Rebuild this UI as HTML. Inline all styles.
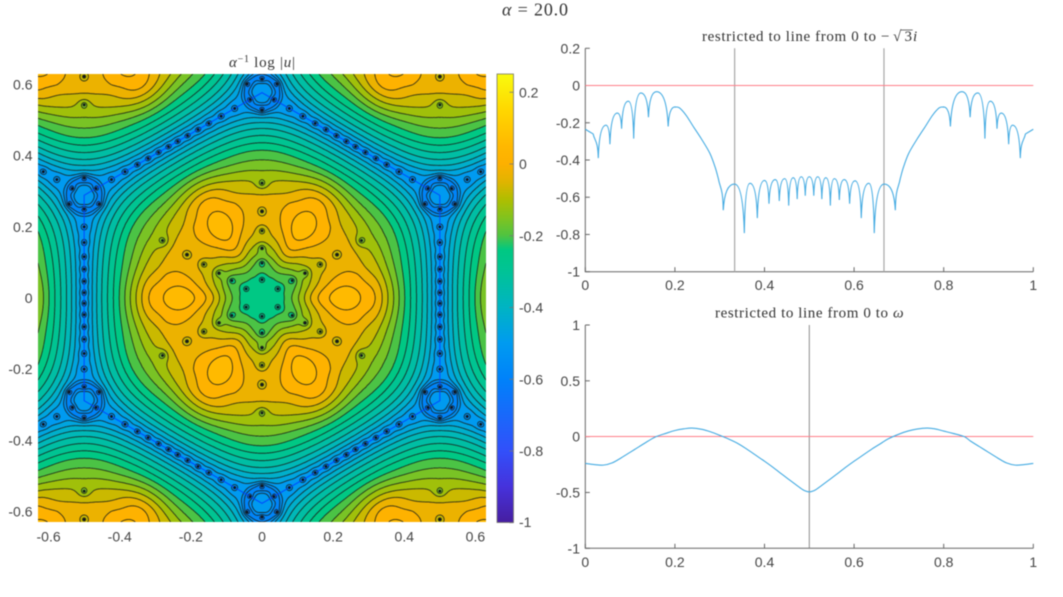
<!DOCTYPE html>
<html lang="en">
<head>
<meta charset="utf-8">
<title>alpha = 20.0</title>
<style>
html,body{margin:0;padding:0;background:#fff;width:1063px;height:597px;overflow:hidden}
#figure{position:absolute;left:0;top:0;width:1063px;height:597px;filter:blur(0.45px)}
#heat{position:absolute;left:38px;top:74px;width:448px;height:448px}
#overlay{position:absolute;left:0;top:0}
text{font-family:"Liberation Sans",sans-serif;font-size:14px;fill:#454545}
.tt{font-family:"Liberation Serif",serif;font-size:15px;fill:#333}
</style>
</head>
<body>
<div id="figure">
<canvas id="heat" width="896" height="896"></canvas>
<svg id="overlay" width="1063" height="597" viewBox="0 0 1063 597" xmlns="http://www.w3.org/2000/svg">
<defs><linearGradient id="cbGrad" x1="0" y1="1" x2="0" y2="0"></linearGradient></defs>
<text class="tt" x="502" y="15.5" textLength="66" style="font-size:18px"><tspan font-style="italic">α</tspan> = 20.0</text>
<text class="tt" x="229" y="67" textLength="66"><tspan font-style="italic">α</tspan><tspan dy="-5" style="font-size:10px">−1</tspan><tspan dy="5"> log |</tspan><tspan font-style="italic">u</tspan>|</text>
<text class="tt" x="702" y="41" textLength="174">restricted to line from 0 to</text>
<text class="tt" x="881" y="41">−</text>
<text class="tt" x="893" y="41">√</text>
<text class="tt" x="904.5" y="41">3</text>
<text class="tt" x="913" y="41" font-style="italic">i</text>
<line x1="900.7" x2="912.7" y1="30" y2="30" stroke="#333" stroke-width="0.7"/>
<text class="tt" x="715" y="317.5" textLength="173">restricted to line from 0 to</text>
<text class="tt" x="893" y="317.5" textLength="11" font-style="italic">ω</text>
<rect x="497" y="74" width="16.5" height="448.5" fill="url(#cbGrad)" stroke="#77776a" stroke-width="0.8"/>
<g id="layer"></g>
</svg>
</div>
<script>
// ---------- line plot data ----------
const topT = [0,.0175,.029,.0462,.055,.0715,.081,.096,.108,.124,.141,.159,.185,.2,.21,.225,.241,.26,.278,.29,.297,.308,.333,.355,.3675,.384,.4,.41,.424,.433,.445,.454,.464,.473,.482,.491,.5,.51,.519,.528,.537,.547,.556,.567,.578,.59,.602,.616,.633,.645,.667,.692,.703,.71,.722,.74,.759,.775,.79,.8,.815,.841,.859,.876,.892,.904,.919,.9285,.945,.9538,.971,.9825,1];
const topV = [-.235,-.26,-.39,-.213,-.315,-.148,-.232,-.084,-.285,-.04,-.17,-.033,-.22,-.115,-.12,-.16,-.22,-.29,-.364,-.44,-.5,-.67,-.529,-.793,-.525,-.712,-.51,-.635,-.505,-.62,-.5,-.645,-.495,-.61,-.49,-.592,-.49,-.592,-.49,-.61,-.495,-.645,-.5,-.615,-.505,-.635,-.512,-.712,-.525,-.793,-.529,-.67,-.5,-.44,-.364,-.29,-.22,-.16,-.12,-.115,-.22,-.033,-.17,-.04,-.285,-.084,-.232,-.148,-.315,-.213,-.39,-.26,-.235];
const bottomT = [0,.02,.04,.06,.08,.1,.12,.14,.158,.18,.2,.22,.238,.26,.28,.3,.318,.34,.36,.38,.4,.42,.44,.46,.48,.49,.5,.51,.52,.54,.56,.58,.6,.62,.64,.66,.677,.7,.72,.74,.763,.78,.8,.82,.846,.86,.88,.9,.92,.94,.96,.98,1];
const bottomV = [-.24,-.25,-.255,-.235,-.19,-.14,-.09,-.04,0,.03,.055,.07,.077,.066,.043,.012,-.018,-.06,-.11,-.165,-.22,-.278,-.34,-.4,-.46,-.485,-.495,-.485,-.46,-.4,-.34,-.278,-.22,-.165,-.11,-.06,-.018,.022,.05,.068,.077,.07,.05,.03,0,-.04,-.09,-.14,-.19,-.235,-.255,-.25,-.24];
const topVerticals = [1/3,2/3];
const bottomVerticals = [.5];
const xTickLabels = [0,.2,.4,.6,.8,1];
const topYTicks = [.2,0,-.2,-.4,-.6,-.8,-1];
const bottomYTicks = [1,.5,0,-.5,-1];
const heatTicks = [-.6,-.4,-.2,0,.2,.4,.6];
const colorbarTicks = [.2,0,-.2,-.4,-.6,-.8,-1];

// ---------- heat field data ----------
const cmapVals = [-1,-.9,-.8,-.6,-.5,-.4,-.3,-.24,-.2,-.15,-.1,-.05,0,.05,.15,.25];
const cmapR = [70,70,50,0,0,0,0,0,80,130,175,225,253,255,255,249];
const cmapG = [30,50,80,130,155,180,195,200,195,195,190,180,176,184,215,251];
const cmapB = [160,220,250,250,240,195,150,130,65,30,0,0,0,0,0,14];
const profileR = [0,.04,.07,.1,.15,.2,.235,.28,.32,.36,.4,.45,.5,.52,.6];
const profileEdge = [-.22,-.225,-.19,-.135,-.022,.045,.062,.032,-.012,-.11,-.22,-.35,-.481,-.486,-.486];
const vertexR = [0,.08,.124,.167,.215,.275,.3,.34,.373,.399,.433,.46,.5];
const profileVertex = [-.22,-.18,-.11,-.05,-.015,-.02,-.055,-.105,-.19,-.29,-.43,-.48,-.5];
const radialZeros = [.0515,.098,.14,.189,.2436,.323];
const vertexRingRadial = [.529];
const edgeZeroOffsets = [.015,.047,.081,.116,.156,.2,.25];
const levelCount = 30;
const levelMin = -1;
const levelMax = .25;

// ---------- helpers ----------
const SVGNS = 'http://www.w3.org/2000/svg';
const layer = document.getElementById('layer');
function mk(tag, attrs, text){
  const el = document.createElementNS(SVGNS, tag);
  for (const k in attrs) el.setAttribute(k, attrs[k]);
  if (text !== undefined) el.textContent = text;
  layer.appendChild(el);
  return el;
}
function fmt(v){
  if (v === 0) return '0';
  return String(v);
}

// ---------- colour map ----------
function cmap(v){
  if (v <= cmapVals[0]) return [cmapR[0],cmapG[0],cmapB[0]];
  for (let i = 1; i < cmapVals.length; i++){
    if (v <= cmapVals[i]){
      const f = (v-cmapVals[i-1])/(cmapVals[i]-cmapVals[i-1]);
      return [cmapR[i-1]+f*(cmapR[i]-cmapR[i-1]),cmapG[i-1]+f*(cmapG[i]-cmapG[i-1]),cmapB[i-1]+f*(cmapB[i]-cmapB[i-1])];
    }
  }
  const n = cmapVals.length-1;
  return [cmapR[n],cmapG[n],cmapB[n]];
}
const grad = document.getElementById('cbGrad');
cmapVals.forEach(function(v,i){
  const s = document.createElementNS(SVGNS,'stop');
  s.setAttribute('offset', (v-levelMin)/(levelMax-levelMin));
  s.setAttribute('stop-color', 'rgb('+cmapR[i]+','+cmapG[i]+','+cmapB[i]+')');
  grad.appendChild(s);
});

// ---------- axes for line plots ----------
const topBox = {l:585.3,r:1033.3,t:48.3,b:271.7,y0:-1,y1:.2};
const botBox = {l:585.3,r:1033.3,t:325,b:548.3,y0:-1,y1:1};
function sx(box,t){ return box.l+t*(box.r-box.l); }
function sy(box,v){ return box.b-(v-box.y0)/(box.y1-box.y0)*(box.b-box.t); }

function drawAxes(box, yTicks, verticals, prefix, vColor, vWidth){
  const ax = mk('path',{d:'M'+box.l+' '+box.t+'V'+box.b+'H'+box.r,fill:'none',stroke:'#666','stroke-width':1});
  
  
  xTickLabels.forEach(function(t){
    const x = sx(box,t);
    const m = mk('line',{x1:x,x2:x,y1:box.b,y2:box.b-4.5,stroke:'#666','stroke-width':1});
    
    
    const l = mk('text',{x:x,y:box.b+18.5,'text-anchor':'middle'},fmt(t));
    
    
  });
  yTicks.forEach(function(v){
    const y = sy(box,v);
    const m = mk('line',{x1:box.l,x2:box.l+4.5,y1:y,y2:y,stroke:'#666','stroke-width':1});
    
    
    const l = mk('text',{x:580,y:y+5,'text-anchor':'end'},fmt(v));
    
    
  });
  verticals.forEach(function(t){
    const x = sx(box,t);
    const m = mk('line',{x1:x,x2:x,y1:box.t,y2:box.b,stroke:vColor,'stroke-width':vWidth});
    
    
  });
  const zy = Math.floor(sy(box,0))+.5;
  const z = mk('line',{x1:box.l,x2:box.r,y1:zy,y2:zy,stroke:'#ff7f8a','stroke-width':1});
  
  
}
drawAxes(topBox, topYTicks, topVerticals, 'top-plot', '#a8a8a8', 1.2);
drawAxes(botBox, bottomYTicks, bottomVerticals, 'bottom-plot', '#808080', 0.9);

// curve through points: cusps at sharp local minima, smooth arches elsewhere
function curvePath(box,ts,vs,cusps){
  const n = ts.length;
  const X = ts.map(function(t){return sx(box,t);});
  const Y = vs.map(function(v){return sy(box,v);});
  const isNull = function(i){ return cusps && i>0 && i<n-1 && vs[i]<vs[i-1] && vs[i]<vs[i+1]; };
  const tan = function(i){
    const a = (i===0||isNull(i-1))?i:i-1, b = (i===n-1||isNull(i+1))?i:i+1;
    return [(X[b]-X[a])/(b-a||1),(Y[b]-Y[a])/(b-a||1)];
  };
  let d = 'M'+X[0].toFixed(2)+' '+Y[0].toFixed(2);
  for (let i=0;i<n-1;i++){
    const a=isNull(i),b=isNull(i+1);
    const x0=X[i],y0=Y[i],x1=X[i+1],y1=Y[i+1];
    let c1x,c1y,c2x,c2y;
    if(!a && !b){
      const t0=tan(i),t1=tan(i+1);
      c1x=x0+t0[0]/3;c1y=y0+t0[1]/3;c2x=x1-t1[0]/3;c2y=y1-t1[1]/3;
    } else {
      const nx=a?x0:x1, ny=a?y0:y1, gx=a?x1:x0, gy=a?y1:y0, gi=a?i+1:i;
      const other=a?gi+1:gi-1;
      const peak=(other<0||other>=n)?true:vs[gi]>=vs[other];
      const cnx=nx+.1*(gx-nx), cny=ny+.75*(gy-ny);
      const cgx=peak?gx-.5*(gx-nx):gx-.35*(gx-nx);
      const cgy=peak?gy:gy-.32*(gy-ny);
      if(a){c1x=cnx;c1y=cny;c2x=cgx;c2y=cgy;}else{c1x=cgx;c1y=cgy;c2x=cnx;c2y=cny;}
    }
    d+='C'+c1x.toFixed(2)+' '+c1y.toFixed(2)+' '+c2x.toFixed(2)+' '+c2y.toFixed(2)+' '+x1.toFixed(2)+' '+y1.toFixed(2);
  }
  return d;
}
const topLine = mk('path',{d:curvePath(topBox,topT,topV,true),fill:'none',stroke:'#45abe2','stroke-width':1.1});



const botLine = mk('path',{d:curvePath(botBox,bottomT,bottomV,false),fill:'none',stroke:'#45abe2','stroke-width':1.1});



// ---------- heatmap tick labels ----------
const heatHalf = 224/355.7;
function hx(x){ return 38+(x+heatHalf)/(2*heatHalf)*448; }
function hy(y){ return 522-(y+heatHalf)/(2*heatHalf)*448; }
heatTicks.forEach(function(v){
  const a = mk('text',{x:hx(v),y:541.5,'text-anchor':'middle'},fmt(v));
  
  
  const b = mk('text',{x:32.5,y:hy(v)+5,'text-anchor':'end'},fmt(v));
  
  
});
function cby(v){ return 164-v*358.75; }
colorbarTicks.forEach(function(v){
  const y = cby(v);
  const m = mk('line',{x1:509.5,x2:513.5,y1:y,y2:y,stroke:'#777','stroke-width':0.8});
  
  
  const l = mk('text',{x:519,y:Math.min(y+5,527),'text-anchor':'start'},fmt(v));
  
  
});

// ---------- field ----------
function hermiteLUT(xs,ys,size,xmax){
  const m = xs.map(function(_,i){
    if(i===0) return (ys[1]-ys[0])/(xs[1]-xs[0]);
    if(i===xs.length-1) return (ys[i]-ys[i-1])/(xs[i]-xs[i-1]);
    return (ys[i+1]-ys[i-1])/(xs[i+1]-xs[i-1]);
  });
  const out = new Float32Array(size+1);
  let seg = 0;
  for(let k=0;k<=size;k++){
    const x = k/size*xmax;
    while(seg<xs.length-2 && x>xs[seg+1]) seg++;
    const h = xs[seg+1]-xs[seg];
    const s = Math.min(1,(x-xs[seg])/h);
    const s2=s*s,s3=s2*s;
    out[k]=(2*s3-3*s2+1)*ys[seg]+(s3-2*s2+s)*h*m[seg]+(-2*s3+3*s2)*ys[seg+1]+(s3-s2)*h*m[seg+1];
  }
  return out;
}
const LUTN=1200,LUTMAX=.6;
const lutE=hermiteLUT(profileR,profileEdge,LUTN,LUTMAX);
const lutV=hermiteLUT(vertexR,profileVertex,LUTN,LUTMAX);
const S3=Math.sqrt(3)/2,VR=1/Math.sqrt(3);
function sstep(a,b,x){ let t=(x-a)/(b-a); t=t<0?0:t>1?1:t; return t*t*(3-2*t); }

function background(x,y){
  let best=1e9,cx=0,cy=0;
  const j0=Math.round(y/S3);
  for(let j=j0-1;j<=j0+1;j++){
    const i0=Math.round(x-.5*j);
    for(let i=i0-1;i<=i0+1;i++){
      const ax=i+.5*j,ay=j*S3,d=(x-ax)*(x-ax)+(y-ay)*(y-ay);
      if(d<best){best=d;cx=ax;cy=ay;}
    }
  }
  const r=Math.sqrt(best);
  let th=Math.atan2(y-cy,x-cx);
  if(th<0) th+=Math.PI*2;
  const p60=Math.PI/3;
  let al=th%p60;
  if(al>p60/2) al=p60-al;
  const tau=sstep(.3,.5,r);
  const c1=Math.cos(al),c2=Math.cos(p60-al),c3=Math.cos(p60+al);
  const c12=c1*c1,c22=c2*c2,c32=c3*c3;
  const hexN=Math.pow(c12*c12*c12*c12+c22*c22*c22*c22+c32*c32*c32*c32,.125);
  const rho=r*(1-tau*(1-hexN));
  const w0=(1-Math.cos(6*al))/2;
  const w=(1-Math.pow(1-w0,2.5))*(1-sstep(.34,.42,r));
  const idx=Math.min(LUTN,Math.max(0,Math.round(rho/LUTMAX*LUTN)));
  return lutE[idx]*(1-w)+lutV[idx]*w;
}

const N=896;
const F=new Float32Array((N+1)*(N+1));
for(let j=0;j<=N;j++){
  const y=heatHalf-j/N*2*heatHalf;
  for(let i=0;i<=N;i++){
    const x=-heatHalf+i/N*2*heatHalf;
    F[j*(N+1)+i]=background(x,y);
  }
}
// zeros from the lattice
const radialMap=new Map(), edgeMap=new Map(), vertexMap=new Map();
function addPt(map,x,y){
  const k=Math.round(x*2000)+'_'+Math.round(y*2000);
  if(!map.has(k)) map.set(k,[x,y]);
}
for(let j=-2;j<=2;j++){
  for(let i=-3;i<=3;i++){
    const cx=i+.5*j,cy=j*S3;
    if(Math.abs(cx)>1.4||Math.abs(cy)>1.4) continue;
    for(let k=0;k<6;k++){
      const a=(30+60*k)*Math.PI/180,ca=Math.cos(a),sa=Math.sin(a);
      radialZeros.forEach(function(r){ addPt(radialMap,cx+r*ca,cy+r*sa); });
      vertexRingRadial.forEach(function(r){ addPt(edgeMap,cx+r*ca,cy+r*sa); });
      addPt(vertexMap,cx+VR*ca,cy+VR*sa);
      const b=(60*k)*Math.PI/180,mx=cx+.5*Math.cos(b),my=cy+.5*Math.sin(b),ex=-Math.sin(b),ey=Math.cos(b);
      edgeZeroOffsets.forEach(function(o){
        addPt(edgeMap,mx+o*ex,my+o*ey);
        addPt(edgeMap,mx-o*ex,my-o*ey);
      });
    }
  }
}
const toI=function(x){return (x+heatHalf)/(2*heatHalf)*N;};
const toJ=function(y){return (heatHalf-y)/(2*heatHalf)*N;};
const pxUnit=N/(2*heatHalf);
function splat(x,y,rad,fn){
  const ci=toI(x),cj=toJ(y),rp=Math.ceil(rad*pxUnit);
  const i0=Math.max(0,Math.floor(ci-rp)),i1=Math.min(N,Math.ceil(ci+rp));
  const j0=Math.max(0,Math.floor(cj-rp)),j1=Math.min(N,Math.ceil(cj+rp));
  for(let j=j0;j<=j1;j++){
    for(let i=i0;i<=i1;i++){
      const dx=(i-ci)/pxUnit,dy=(j-cj)/pxUnit,d2=dx*dx+dy*dy;
      if(d2<rad*rad) F[j*(N+1)+i]+=fn(d2);
    }
  }
}
function wellField(map,R,CUT){
  const A=.05,R2=R*R,EPS=1e-6;
  const W0=A/2*Math.log((CUT*CUT+EPS)/(CUT*CUT+R2));
  map.forEach(function(z){
    splat(z[0],z[1],CUT,function(d2){ return A/2*Math.log((d2+EPS)/(d2+R2))-W0; });
  });
}
wellField(radialMap,.024,.08);
wellField(edgeMap,.016,.06);
vertexMap.forEach(function(v){
  splat(v[0],v[1],.1,function(d2){
    const d=Math.sqrt(d2),q=(d-.044)/.014;
    return -.08*Math.exp(-q*q);
  });
});

// ---------- paint ----------
const cv=document.getElementById('heat'),ctx=cv.getContext('2d');
const STEP=(levelMax-levelMin)/(levelCount-1);
const img=ctx.createImageData(N,N);
const colorCache=[];
for(let k=-1;k<=levelCount+1;k++) colorCache[k+1]=cmap(levelMin+(k+.5)*STEP);
for(let j=0;j<N;j++){
  for(let i=0;i<N;i++){
    const v=(F[j*(N+1)+i]+F[j*(N+1)+i+1]+F[(j+1)*(N+1)+i]+F[(j+1)*(N+1)+i+1])/4;
    let k=Math.floor((v-levelMin)/STEP);
    if(k<-1)k=-1; if(k>levelCount)k=levelCount;
    const c=colorCache[k+1],o=(j*N+i)*4;
    img.data[o]=c[0];img.data[o+1]=c[1];img.data[o+2]=c[2];img.data[o+3]=255;
  }
}
ctx.putImageData(img,0,0);

// contour lines (marching squares)
ctx.strokeStyle='rgba(25,30,25,0.85)';
ctx.lineWidth=1.9;
ctx.beginPath();
for(let j=0;j<N;j++){
  for(let i=0;i<N;i++){
    const a=F[j*(N+1)+i],b=F[j*(N+1)+i+1],c=F[(j+1)*(N+1)+i+1],d=F[(j+1)*(N+1)+i];
    const mn=Math.min(a,b,c,d),mx=Math.max(a,b,c,d);
    if(mn<levelMin) continue;
    const k0=Math.ceil((mn-levelMin)/STEP),k1=Math.floor((mx-levelMin)/STEP);
    for(let k=k0;k<=k1;k++){
      const L=levelMin+k*STEP,p=[];
      if((a<L)!==(b<L)) p.push(i+(L-a)/(b-a),j);
      if((b<L)!==(c<L)) p.push(i+1,j+(L-b)/(c-b));
      if((c<L)!==(d<L)) p.push(i+(L-d)/(c-d),j+1);
      if((d<L)!==(a<L)) p.push(i,j+(L-a)/(d-a));
      if(p.length>=4){ctx.moveTo(p[0],p[1]);ctx.lineTo(p[2],p[3]);}
      if(p.length===8){ctx.moveTo(p[4],p[5]);ctx.lineTo(p[6],p[7]);}
    }
  }
}
ctx.stroke();

// central hexagon outline
ctx.strokeStyle='rgba(0,70,255,0.9)';
ctx.lineWidth=2.2;
ctx.beginPath();
for(let k=0;k<=6;k++){
  const a=(30+60*k)*Math.PI/180,x=toI(VR*Math.cos(a)),y=toJ(VR*Math.sin(a));
  if(k===0)ctx.moveTo(x,y);else ctx.lineTo(x,y);
}
ctx.stroke();

// zero cores
ctx.fillStyle='#10141c';
[radialMap,edgeMap].forEach(function(map){
  map.forEach(function(z){
    ctx.beginPath();
    ctx.arc(toI(z[0]),toJ(z[1]),2.6,0,Math.PI*2);
    ctx.fill();
  });
});
</script>
</body>
</html>
